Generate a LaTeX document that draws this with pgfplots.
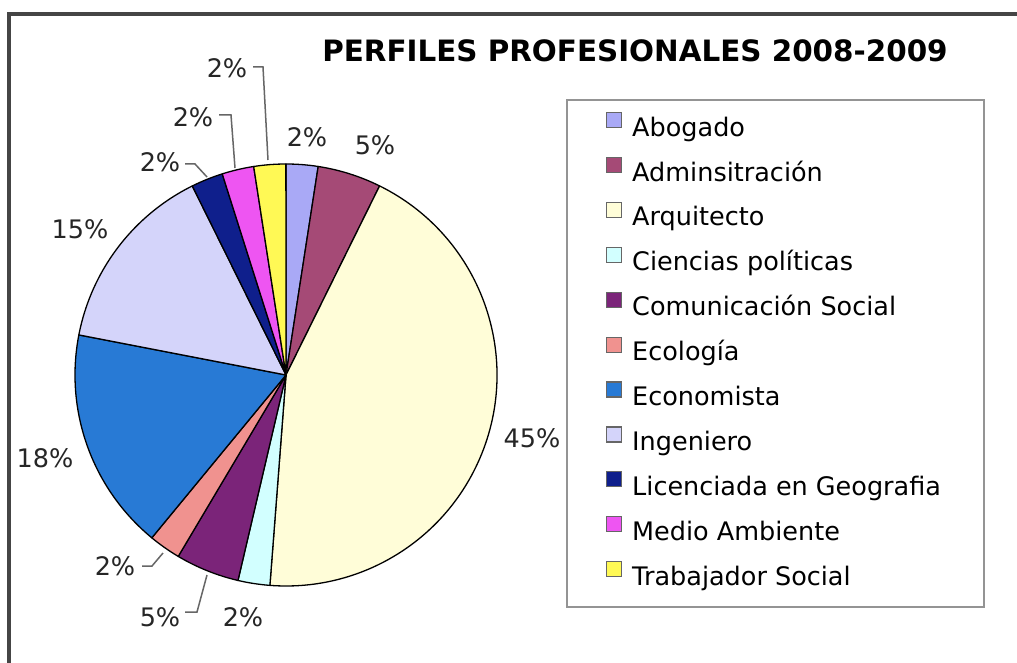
\documentclass[border=0pt]{standalone}
\usepackage{pgfplots}
\pgfplotsset{compat=1.18}
\usepackage{pgfplotstable}
\usepackage{fontspec}
\setmainfont{DejaVu Sans}
\definecolor{cAbo}{HTML}{A9A9F6}
\definecolor{cAdm}{HTML}{A54A76}
\definecolor{cArq}{HTML}{FFFDD8}
\definecolor{cCie}{HTML}{D2FFFF}
\definecolor{cCom}{HTML}{7B2479}
\definecolor{cEco}{HTML}{F0928F}
\definecolor{cEcn}{HTML}{287AD5}
\definecolor{cIng}{HTML}{D4D4FA}
\definecolor{cLic}{HTML}{0F1F8C}
\definecolor{cMed}{HTML}{EE55F2}
\definecolor{cTra}{HTML}{FFF955}
\newcommand{\labfont}{\fontsize{25.5}{30}\selectfont}
% val = share of the slice, lab = printed percentage, lx/ly = label position
\pgfplotstableread{
key val lab lx ly col
Abo 1  2  307 515 cAbo
Adm 2  5  375 507 cAdm
Arq 18 45 532 215 cArq
Cie 1  2  243 36  cCie
Com 2  5  160 36  cCom
Eco 1  2  115 87  cEco
Ecn 7  18 45  195 cEcn
Ing 6  15 80  423 cIng
Lic 1  2  160 490 cLic
Med 1  2  193 535 cMed
Tra 1  2  227 584 cTra
}\piedata
\begin{document}
\begin{tikzpicture}
\useasboundingbox (0pt,0pt) rectangle (1017pt,662pt);
\fill[white] (0pt,0pt) rectangle (1017pt,662pt);
\begin{axis}[
  at={(0pt,0pt)}, anchor=south west,
  x=1pt, y=1pt, xmin=0, xmax=1017, ymin=0, ymax=662,
  hide axis, clip=false,
  legend image code/.code={\draw[#1, draw=black!60, line width=1.2pt] (0pt,2pt) rectangle (15pt,17pt);},
  legend style={at={(axis cs:606,550)}, anchor=north west, draw=none, fill=none,
    inner sep=0pt, outer sep=0pt, row sep=14.8pt, column sep=10pt,
    font=\labfont,
    nodes={inner sep=0pt, outer sep=0pt, text height=19pt, text depth=6pt}},
  legend cell align=left,
]
\pgfplotstablegetrowsof{\piedata}
\pgfmathtruncatemacro{\N}{\pgfplotsretval-1}
\def\tot{0}
\pgfplotsforeachungrouped \i in {0,...,\N}{%
  \pgfplotstablegetelem{\i}{val}\of\piedata
  \pgfmathsetmacro{\tot}{\tot+\pgfplotsretval}%
}
\def\angA{90}
\pgfplotsforeachungrouped \i in {0,...,\N}{%
  \pgfplotstablegetelem{\i}{val}\of\piedata \let\vv\pgfplotsretval
  \pgfplotstablegetelem{\i}{col}\of\piedata \let\colc\pgfplotsretval
  \pgfmathsetmacro{\angB}{\angA-\vv/\tot*360}%
  \edef\temp{\noexpand\filldraw[fill=\colc, draw=black, line width=1.3pt, line join=round]
    (axis cs:286,287) -- ++(\angA:211pt) arc[start angle=\angA, end angle=\angB, radius=211pt] -- cycle;}%
  \temp
  \global\let\angA\angB
}
\pgfplotsforeachungrouped \i in {0,...,\N}{%
  \pgfplotstablegetelem{\i}{lab}\of\piedata \let\lab\pgfplotsretval
  \pgfplotstablegetelem{\i}{lx}\of\piedata \let\lx\pgfplotsretval
  \pgfplotstablegetelem{\i}{ly}\of\piedata \let\ly\pgfplotsretval
  \edef\temp{\noexpand\node[anchor=base, font=\noexpand\labfont, text=black!85, inner sep=0pt] at (axis cs:\lx,\ly) {\lab\noexpand\%};}%
  \temp
}
% leader lines
\draw[black!60, line width=1.5pt] (axis cs:253,595) -- (axis cs:263,595) -- (axis cs:268,502);
\draw[black!60, line width=1.5pt] (axis cs:219,547) -- (axis cs:231,547) -- (axis cs:235,494);
\draw[black!60, line width=1.5pt] (axis cs:185,498) -- (axis cs:195,498) -- (axis cs:207,485);
\draw[black!60, line width=1.5pt] (axis cs:142,96) -- (axis cs:152,96) -- (axis cs:163,109);
\draw[black!60, line width=1.5pt] (axis cs:185,50) -- (axis cs:197,50) -- (axis cs:207,87);
% legend frame
\draw[black!42, line width=2.2pt] (axis cs:567,562) rectangle (axis cs:984,55.3);
\addlegendimage{fill=cAbo}\addlegendentry{Abogado}
\addlegendimage{fill=cAdm}\addlegendentry{Adminsitración}
\addlegendimage{fill=cArq}\addlegendentry{Arquitecto}
\addlegendimage{fill=cCie}\addlegendentry{Ciencias políticas}
\addlegendimage{fill=cCom}\addlegendentry{Comunicación Social}
\addlegendimage{fill=cEco}\addlegendentry{Ecología}
\addlegendimage{fill=cEcn}\addlegendentry{Economista}
\addlegendimage{fill=cIng}\addlegendentry{Ingeniero}
\addlegendimage{fill=cLic}\addlegendentry{Licenciada en Geografia}
\addlegendimage{fill=cMed}\addlegendentry{Medio Ambiente}
\addlegendimage{fill=cTra}\addlegendentry{Trabajador Social}
\end{axis}
\node[anchor=base, font=\fontsize{29.4}{34}\selectfont\bfseries] at (635pt,600pt) {PERFILES PROFESIONALES 2008-2009};
\draw[black!73, line width=3.5pt] (9pt,-5pt) -- (9pt,648pt) -- (1030pt,648pt);
\end{tikzpicture}
\end{document}
